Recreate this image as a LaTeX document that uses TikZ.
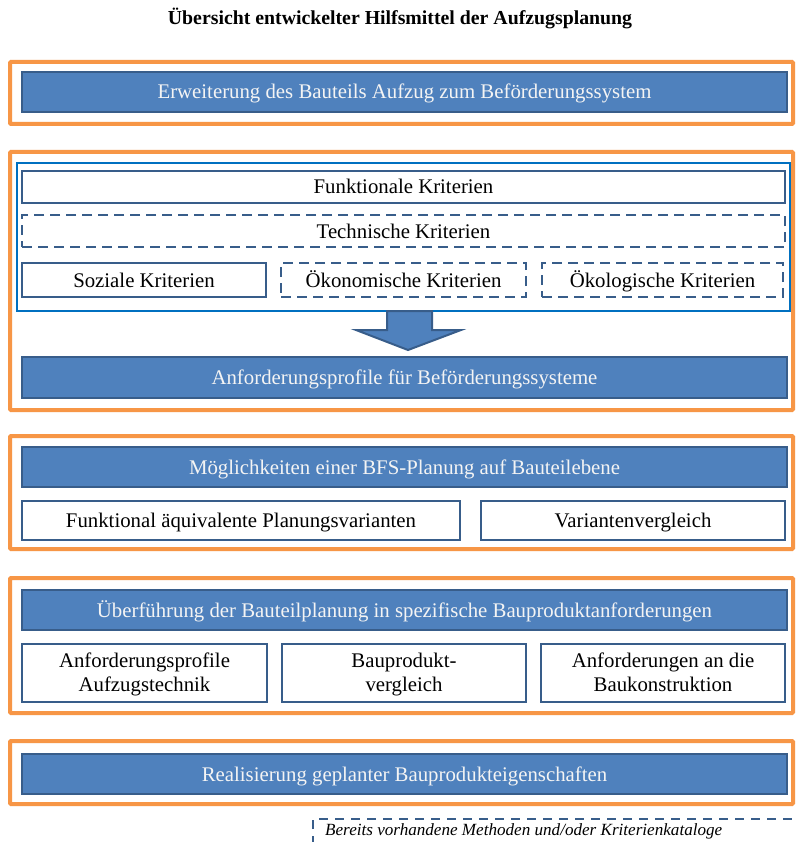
\documentclass[tikz,border=0pt]{standalone}
\usepackage{fontspec}
\setmainfont{Liberation Serif}
\definecolor{barfill}{HTML}{4F81BD}
\definecolor{barline}{HTML}{385D8A}
\definecolor{framec}{HTML}{F79646}
\definecolor{critc}{HTML}{0070C0}
\definecolor{bartext}{HTML}{F4F4F4}
\tikzset{
  frame/.style={draw=framec, line width=4pt, rounded corners=1pt},
  bar/.style={draw=barline, line width=2pt, fill=barfill, text=bartext,
    minimum width=765pt, minimum height=40pt, inner sep=0pt,
    text height=17pt, text depth=3pt,
    font=\fontsize{20.8}{24}\selectfont},
  box/.style={draw=barline, line width=2pt, fill=white, text=black,
    minimum height=32pt, inner sep=0pt, align=center,
    font=\fontsize{20.8}{24}\selectfont},
  sbox/.style={box, text height=17pt, text depth=3pt},
  dbox/.style={sbox, dash pattern=on 10pt off 6pt},
  mbox/.style={box, minimum width=244pt, minimum height=58pt, text depth=3pt},
  critframe/.style={draw=critc, line width=2pt},
}
\begin{document}
\begin{tikzpicture}[x=1pt,y=-1pt]
\useasboundingbox (0,0) rectangle (796,842);
\fill[white] (0,0) rectangle (796,842);

% title
\node[font=\bfseries\fontsize{19.8}{22}\selectfont] (title) at (400,18)
  {Übersicht entwickelter Hilfsmittel der Aufzugsplanung};

% stage 1
\draw[frame] (10,62) rectangle (793,124);
\node[bar] (b1) at (404.5,92) {Erweiterung des Bauteils Aufzug zum Beförderungssystem};

% stage 2
\draw[frame] (10,152) rectangle (793,410);
\draw[critframe] (17,163) rectangle (790,311);
\node[sbox, minimum width=763pt] (funk) at (403.5,187) {Funktionale Kriterien};
\node[dbox, minimum width=763pt] (tech) at (403.5,231) {Technische Kriterien};
\node[sbox, minimum width=244pt, minimum height=34pt] (soz) at (144,280) {Soziale Kriterien};
\node[dbox, minimum width=245pt, minimum height=34pt] (oek) at (403.5,280) {Ökonomische Kriterien};
\node[dbox, minimum width=241pt, minimum height=34pt] (ecol) at (662.5,280) {Ökologische Kriterien};
\node[bar, minimum height=41pt] (b2) at (404.5,377.5) {Anforderungsprofile für Beförderungssysteme};
% block arrow from the criteria to the profiles
\draw[draw=barline, line width=2pt, fill=barfill, line join=miter]
  (387,311) -- (432,311) -- (432,330) -- (461,330) -- (408,350)
  -- (356,330) -- (387,330) -- cycle;

% stage 3
\draw[frame] (10,436) rectangle (793,549);
\node[bar] (b3) at (404.5,467) {Möglichkeiten einer BFS-Planung auf Bauteilebene};
\node[sbox, minimum width=438pt, minimum height=39pt] (v1) at (241,520.5) {Funktional äquivalente Planungsvarianten};
\node[sbox, minimum width=304pt, minimum height=39pt] (v2) at (633,520.5) {Variantenvergleich};

% stage 4
\draw[frame] (10,578) rectangle (793,713);
\node[bar] (b4) at (404.5,610) {Überführung der Bauteilplanung in spezifische Bauproduktanforderungen};
\node[mbox, minimum width=245pt] (p1) at (144.5,673) {\strut Anforderungsprofile\\\strut Aufzugstechnik};
\node[mbox] (p2) at (404,673) {\strut Bauprodukt-\\\strut vergleich};
\node[mbox] (p3) at (663,673) {\strut Anforderungen an die\\\strut Baukonstruktion};

% stage 5
\draw[frame] (10,741) rectangle (793,804);
\node[bar] (b5) at (404.5,774) {Realisierung geplanter Bauprodukteigenschaften};

% legend
\coordinate (lg1) at (313,845);
\coordinate (lg2) at (313,819);
\coordinate (lg3) at (800,819);
\draw[draw=barline, line width=2pt, dash pattern=on 9pt off 7pt] (lg1) -- (lg2) -- (lg3);
\node[anchor=west, inner sep=0pt, font=\itshape\fontsize{17.1}{19}\selectfont] (legend) at (325,831)
  {Bereits vorhandene Methoden und/oder Kriterienkataloge};
\end{tikzpicture}
\end{document}
